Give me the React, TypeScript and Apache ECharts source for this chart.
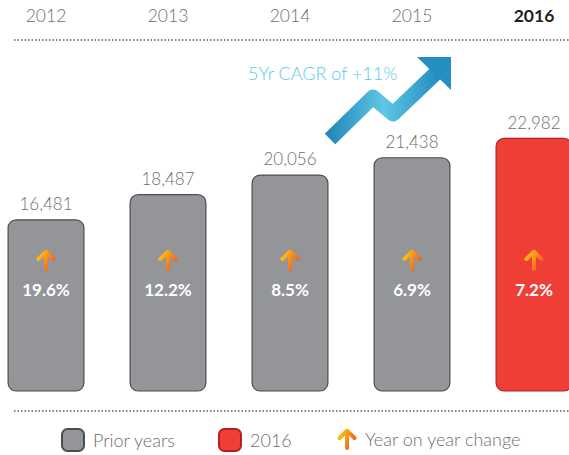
import React, { useEffect, useRef } from "react";
import * as echarts from "echarts";

const years = ["2012", "2013", "2014", "2015", "2016"];
const priorValues: (number | string)[] = [16481, 18487, 20056, 21438, "-"];
const currentValues: (number | string)[] = ["-", "-", "-", "-", 22982];
const yoyChange = [19.6, 12.2, 8.5, 6.9, 7.2];
const cagrText = "5Yr CAGR of +11%";

const Y_MIN = 2750;
const Y_MAX = 30800;
const FONT = "Lato, 'Open Sans', sans-serif";
// the chart canvas starts 15px left of the window edge
const OX = 15;

const arrowSvg =
  '<svg xmlns="http://www.w3.org/2000/svg" width="22" height="22" viewBox="0 0 22 22">' +
  '<defs><linearGradient id="g" x1="0" y1="0.2" x2="1" y2="0.8">' +
  '<stop offset="0" stop-color="#fdc010"/><stop offset="1" stop-color="#f15a24"/></linearGradient></defs>' +
  '<path d="M11 20V3M3.5 10L11 2.8L18.5 10" fill="none" stroke="url(#g)" stroke-width="4" stroke-linecap="round" stroke-linejoin="round"/></svg>';
const arrowUrl = "data:image/svg+xml;charset=utf-8," + encodeURIComponent(arrowSvg);

export default function App() {
  const ref = useRef<HTMLDivElement>(null);

  useEffect(() => {
    if (!ref.current) return;
    const chart = echarts.init(ref.current, null, { renderer: "svg" });

    const blueGrad = new echarts.graphic.LinearGradient(0, 0, 1, 0, [
      { offset: 0, color: "#2588bb" },
      { offset: 0.5, color: "#5ec7e3" },
      { offset: 1, color: "#2590c0" },
    ]);

    const legendText = {
      fontSize: 17,
      color: "#6d6e71",
      fontFamily: FONT,
      fontWeight: 300,
    };

    const option: any = {
      animation: false,
      textStyle: { fontFamily: FONT },
      grid: { top: 40, bottom: 64, left: 0, right: 0, containLabel: false },
      xAxis: {
        type: "category",
        position: "top",
        data: years,
        axisLine: { show: false },
        axisTick: { show: false },
        axisLabel: {
          margin: 16,
          fontSize: 17.5,
          fontWeight: 300,
          color: "#6d6e71",
          fontFamily: FONT,
          formatter: (v: string) => (v === "2016" ? `{b|${v}}` : v),
          rich: { b: { fontSize: 17.5, fontWeight: "bold", color: "#231f20", fontFamily: FONT } },
        },
      },
      yAxis: { type: "value", min: Y_MIN, max: Y_MAX, show: false, splitLine: { show: false } },
      legend: [
        {
          left: 61 + OX,
          top: 428,
          padding: 0,
          itemWidth: 22,
          itemHeight: 22,
          data: [{ name: "Prior years", icon: "roundRect" }],
          textStyle: { ...legendText, fontSize: 18, padding: [0, 0, 0, 4] },
          selectedMode: false,
        },
        {
          left: 218 + OX,
          top: 428,
          padding: 0,
          itemWidth: 22,
          itemHeight: 22,
          data: [{ name: "2016", icon: "roundRect" }],
          textStyle: { ...legendText, fontSize: 18, padding: [0, 0, 0, 4] },
          selectedMode: false,
        },
        {
          left: 336 + OX,
          top: 428,
          padding: 0,
          itemWidth: 22,
          itemHeight: 22,
          data: [{ name: "Year on year change", icon: "image://" + arrowUrl }],
          textStyle: { ...legendText, fontSize: 18, padding: [0, 0, 0, 2] },
          selectedMode: false,
        },
      ],
      series: [
        {
          name: "Prior years",
          type: "bar",
          data: priorValues,
          barWidth: 77,
          barGap: "-100%",
          itemStyle: { color: "#939598", borderColor: "#4d4d4f", borderWidth: 1.2, borderRadius: 8 },
          label: {
            show: true,
            position: "top",
            distance: 7,
            fontSize: 17,
            fontWeight: 300,
            color: "#6d6e71",
            fontFamily: FONT,
            formatter: (p: any) => Number(p.value).toLocaleString("en-US"),
          },
        },
        {
          name: "2016",
          type: "bar",
          data: currentValues,
          barWidth: 77,
          barGap: "-100%",
          itemStyle: { color: "#ef3e36", borderColor: "#b31f24", borderWidth: 1.2, borderRadius: 8 },
          label: {
            show: true,
            position: "top",
            distance: 7,
            fontSize: 17,
            fontWeight: 300,
            color: "#6d6e71",
            fontFamily: FONT,
            formatter: (p: any) => Number(p.value).toLocaleString("en-US"),
          },
        },
        {
          name: "Year on year change",
          type: "custom",
          data: yoyChange.map((v, i) => [years[i], v]),
          encode: { x: 0 },
          z: 5,
          renderItem: (params: any, api: any) => {
            const idx = params.dataIndex;
            const pt = api.coord([idx, Y_MIN]);
            const v = api.value(1);
            return {
              type: "group",
              children: [
                {
                  type: "image",
                  style: { image: arrowUrl, x: pt[0] - 11, y: pt[1] - 142, width: 22, height: 22 },
                },
                {
                  type: "text",
                  style: {
                    x: pt[0],
                    y: pt[1] - 102,
                    text: `${v}%`,
                    fill: "#ffffff",
                    fontSize: 17,
                    fontWeight: "bold",
                    fontFamily: FONT,
                    align: "center",
                    verticalAlign: "middle",
                  },
                },
              ],
            };
          },
        },
      ],
      graphic: [
        {
          type: "line",
          shape: { x1: 14 + OX, y1: 40, x2: 569 + OX, y2: 40 },
          style: { stroke: "#58595b", lineWidth: 1.5, lineDash: [1.5, 2] },
          silent: true,
        },
        {
          type: "line",
          shape: { x1: 14 + OX, y1: 411, x2: 569 + OX, y2: 411 },
          style: { stroke: "#58595b", lineWidth: 1.5, lineDash: [1.5, 2] },
          silent: true,
        },
        {
          type: "text",
          x: 248 + OX,
          y: 73,
          style: {
            text: cagrText,
            fill: "#5bc8ec",
            fontSize: 18,
            fontWeight: 300,
            fontFamily: FONT,
            verticalAlign: "middle",
          },
          silent: true,
        },
        {
          type: "polyline",
          shape: {
            points: [
              [330 + OX, 139],
              [373 + OX, 97],
              [393 + OX, 114],
              [437 + OX, 72],
            ],
          },
          style: { stroke: blueGrad, lineWidth: 15, lineJoin: "round", lineCap: "butt", fill: null },
          silent: true,
        },
        {
          type: "polygon",
          shape: {
            points: [
              [417 + OX, 57],
              [451 + OX, 57],
              [451 + OX, 90],
            ],
          },
          style: { fill: "#2590c0" },
          silent: true,
        },
      ],
    };

    chart.setOption(option);
    return () => chart.dispose();
  }, []);

  return (
    <div
      ref={ref}
      style={{ position: "fixed", left: -OX, top: 0, width: 610, height: 455, background: "#ffffff" }}
    />
  );
}
